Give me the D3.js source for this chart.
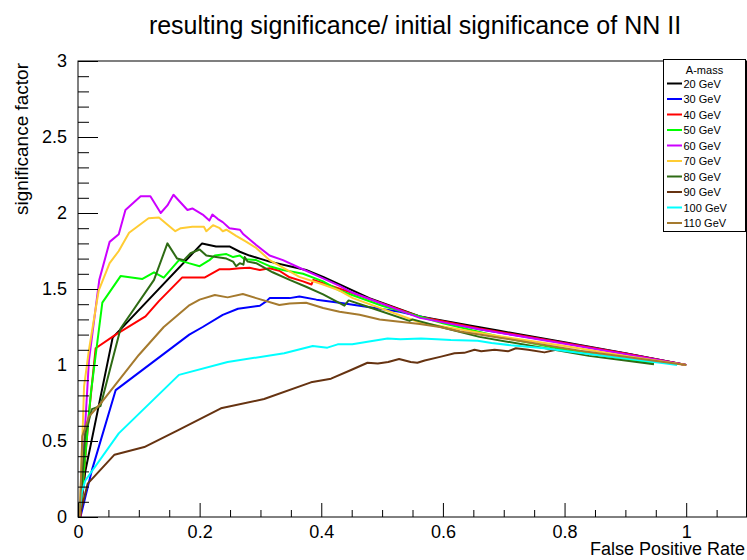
<!DOCTYPE html>
<html>
<head>
<meta charset="utf-8">
<script src="https://cdn.jsdelivr.net/npm/d3@7"></script>
<style>
  html, body { margin: 0; padding: 0; background: #fff; }
  svg { display: block; font-family: "Liberation Sans", Arial, Helvetica, sans-serif; }
</style>
</head>
<body>
<svg id="chart" width="747" height="560"></svg>
<script>
// ---------------- data ----------------
const titleText = "resulting significance/ initial significance of NN II";
const xLabel = "False Positive Rate";
const yLabel = "significance factor";
const legendTitle = "A-mass";
const seriesNames = ["20 GeV","30 GeV","40 GeV","50 GeV","60 GeV","70 GeV","80 GeV","90 GeV","100 GeV","110 GeV"];
const seriesColors = ["#000000","#0000ff","#ff0000","#00ff00","#cc00ff","#ffcc33","#2e6b14","#663311","#00ffff","#a57a2e"];
const xMajorTicks = [0, 0.2, 0.4, 0.6, 0.8, 1];
const xTickLabels = ["0","0.2","0.4","0.6","0.8","1"];
const yMajorTicks = [0, 0.5, 1, 1.5, 2, 2.5, 3];
const yTickLabels = ["0","0.5","1","1.5","2","2.5","3"];

const m20 = [[0.003,0],[0.012,0.30],[0.057,1.18],[0.204,1.80],[0.227,1.78],[0.249,1.78],[0.266,1.745],[0.282,1.72],[0.299,1.70],[0.315,1.68],[0.348,1.65],[0.375,1.625],[0.403,1.58],[0.43,1.53],[0.479,1.44],[0.562,1.32],[0.644,1.26],[0.693,1.225],[0.8,1.15],[0.9,1.078],[1.0,1.0]];
const m30 = [[0.004,0],[0.023,0.31],[0.062,0.835],[0.183,1.20],[0.205,1.25],[0.238,1.33],[0.263,1.37],[0.299,1.39],[0.31,1.42],[0.315,1.44],[0.348,1.44],[0.364,1.45],[0.392,1.43],[0.43,1.41],[0.463,1.39],[0.529,1.35],[0.6,1.285],[0.66,1.235],[0.8,1.145],[0.9,1.075],[1.0,1.0]];
const m40 = [[0.004,0],[0.018,0.68],[0.029,1.11],[0.062,1.20],[0.111,1.32],[0.133,1.42],[0.171,1.575],[0.208,1.575],[0.233,1.63],[0.249,1.63],[0.266,1.636],[0.282,1.64],[0.299,1.625],[0.315,1.636],[0.331,1.62],[0.348,1.577],[0.37,1.55],[0.384,1.53],[0.387,1.56],[0.45,1.475],[0.562,1.318],[0.66,1.24],[0.8,1.145],[0.9,1.076],[1.0,1.0]];
const m50 = [[0.003,0],[0.021,0.81],[0.04,1.41],[0.07,1.585],[0.106,1.566],[0.125,1.61],[0.141,1.575],[0.166,1.69],[0.182,1.67],[0.2,1.65],[0.216,1.69],[0.225,1.72],[0.244,1.73],[0.255,1.71],[0.266,1.72],[0.274,1.695],[0.293,1.69],[0.315,1.65],[0.337,1.625],[0.37,1.60],[0.403,1.55],[0.43,1.49],[0.5,1.39],[0.6,1.275],[0.7,1.18],[0.8,1.1],[0.947,1.01]];
const m60 = [[0.003,0],[0.018,1.03],[0.035,1.56],[0.052,1.81],[0.067,1.86],[0.078,2.02],[0.103,2.11],[0.119,2.11],[0.136,2.00],[0.147,2.05],[0.157,2.12],[0.18,2.02],[0.188,2.03],[0.205,1.99],[0.216,1.95],[0.221,1.99],[0.23,1.96],[0.238,1.94],[0.249,1.90],[0.266,1.89],[0.272,1.86],[0.293,1.79],[0.315,1.72],[0.337,1.69],[0.364,1.64],[0.403,1.57],[0.43,1.52],[0.452,1.475],[0.562,1.31],[0.66,1.235],[0.8,1.14],[0.9,1.07],[1.0,1.0]];
const m70 = [[0.003,0],[0.01,0.86],[0.018,1.10],[0.034,1.49],[0.052,1.67],[0.067,1.75],[0.084,1.87],[0.116,1.965],[0.133,1.97],[0.16,1.88],[0.169,1.90],[0.188,1.91],[0.207,1.91],[0.211,1.88],[0.222,1.92],[0.233,1.90],[0.238,1.88],[0.244,1.89],[0.26,1.85],[0.277,1.81],[0.293,1.77],[0.315,1.69],[0.337,1.64],[0.364,1.58],[0.403,1.53],[0.43,1.49],[0.452,1.44],[0.562,1.28],[0.693,1.19],[0.8,1.125],[0.9,1.06],[1.0,1.0]];
const m80 = [[0.003,0],[0.012,0.55],[0.023,0.71],[0.037,0.73],[0.07,1.24],[0.125,1.56],[0.147,1.80],[0.163,1.70],[0.174,1.69],[0.185,1.735],[0.2,1.76],[0.211,1.72],[0.227,1.71],[0.244,1.70],[0.255,1.68],[0.26,1.65],[0.266,1.67],[0.272,1.66],[0.274,1.71],[0.279,1.68],[0.293,1.67],[0.32,1.61],[0.348,1.56],[0.375,1.515],[0.403,1.465],[0.438,1.39],[0.445,1.425],[0.479,1.38],[0.545,1.29],[0.55,1.30],[0.606,1.24],[0.66,1.185],[0.84,1.06],[0.947,1.005]];
const m90 = [[0.002,0],[0.016,0.22],[0.06,0.41],[0.109,0.46],[0.164,0.57],[0.235,0.715],[0.306,0.776],[0.383,0.886],[0.416,0.91],[0.449,0.967],[0.476,1.015],[0.493,1.01],[0.51,1.02],[0.528,1.04],[0.547,1.02],[0.558,1.015],[0.57,1.03],[0.597,1.055],[0.619,1.077],[0.635,1.08],[0.652,1.10],[0.663,1.09],[0.685,1.10],[0.707,1.09],[0.72,1.11],[0.74,1.10],[0.767,1.083],[0.786,1.10]];
const m100 = [[0.002,0],[0.006,0.156],[0.012,0.24],[0.067,0.55],[0.166,0.935],[0.246,1.02],[0.339,1.077],[0.386,1.125],[0.41,1.114],[0.427,1.136],[0.451,1.136],[0.476,1.153],[0.509,1.175],[0.53,1.17],[0.564,1.175],[0.59,1.17],[0.613,1.164],[0.657,1.16],[0.68,1.145],[0.712,1.13],[0.767,1.11],[0.81,1.087],[0.854,1.066],[0.967,1.01],[0.985,1.0]];
const m110 = [[0.003,0],[0.007,0.53],[0.018,0.66],[0.04,0.76],[0.1,1.066],[0.141,1.25],[0.182,1.39],[0.2,1.43],[0.225,1.46],[0.246,1.445],[0.271,1.467],[0.293,1.44],[0.331,1.395],[0.348,1.405],[0.375,1.41],[0.403,1.375],[0.43,1.35],[0.463,1.33],[0.496,1.30],[0.529,1.285],[0.562,1.27],[0.595,1.25],[0.628,1.22],[0.66,1.20],[0.693,1.18],[0.825,1.094],[1.0,1.0]];
const seriesData = [m20, m30, m40, m50, m60, m70, m80, m90, m100, m110];

// ---------------- layout ----------------
(function draw() {
const svg = d3.select("#chart");
const pL = 78, pR = 746.5, pT = 61, pB = 517;
const x = d3.scaleLinear().domain([0, 1.1]).range([pL, pL + (686.2 - pL) * 1.1]);
const y = d3.scaleLinear().domain([0, 3]).range([pB, pT]);

// title
svg.append("text").attr("x", 415).attr("y", 34).attr("text-anchor", "middle")
  .attr("font-size", 25).attr("fill", "#000").text(titleText);

// clip
svg.append("defs").append("clipPath").attr("id", "clip")
  .append("rect").attr("x", pL).attr("y", pT).attr("width", pR - pL).attr("height", pB - pT);

// series
const line = d3.line().x(d => x(d[0])).y(d => y(d[1]));
const g = svg.append("g").attr("clip-path", "url(#clip)");
seriesData.forEach((d, i) => {
  g.append("path").attr("d", line(d)).attr("fill", "none")
    .attr("stroke", seriesColors[i]).attr("stroke-width", 2).attr("stroke-linejoin", "round");
});

// axes
const xMinor = d3.range(0, 1.1001, 0.05).filter(v => !xMajorTicks.some(m => Math.abs(m - v) < 1e-6));
const yMinor = d3.range(0, 3.0001, 0.1).filter(v => !yMajorTicks.some(m => Math.abs(m - v) < 1e-6));

const xAxisMinor = d3.axisBottom(x).tickValues(xMinor).tickSize(-7).tickFormat("");
const xAxisMajor = d3.axisBottom(x).tickValues(xMajorTicks).tickSize(-14).tickPadding(8)
  .tickFormat((d, i) => xTickLabels[i]);
const yAxisMinor = d3.axisLeft(y).tickValues(yMinor).tickSize(-11).tickFormat("");
const yAxisMajor = d3.axisLeft(y).tickValues(yMajorTicks).tickSize(-20).tickPadding(11)
  .tickFormat((d, i) => yTickLabels[i]);

function style(sel) {
  sel.select(".domain").remove();
  sel.selectAll("line").attr("stroke", "#000").attr("stroke-width", 1);
  sel.selectAll("text").attr("font-size", 18).attr("fill", "#000")
    .attr("font-family", "Liberation Sans, Arial, sans-serif");
}
svg.append("g").attr("transform", `translate(0,${pB})`).call(xAxisMinor).call(style);
svg.append("g").attr("transform", `translate(0,${pB})`).call(xAxisMajor).call(style);
svg.append("g").attr("transform", `translate(${pL},0)`).call(yAxisMinor).call(style);
svg.append("g").attr("transform", `translate(${pL},0)`).call(yAxisMajor).call(style);

// frame
svg.append("rect").attr("x", pL).attr("y", pT).attr("width", pR - pL).attr("height", pB - pT)
  .attr("fill", "none").attr("stroke", "#000").attr("stroke-width", 1);

// axis titles
svg.append("text").attr("x", 745).attr("y", 555).attr("text-anchor", "end")
  .attr("font-size", 18).attr("fill", "#000").text(xLabel);
svg.append("text").attr("transform", "translate(28,63) rotate(-90)").attr("text-anchor", "end")
  .attr("font-size", 19).attr("fill", "#000").text(yLabel);

// legend
const lg = svg.append("g");
const lx = 663.5, ly = 59.5, lw = 82, lh = 172;
lg.append("rect").attr("x", lx).attr("y", ly).attr("width", lw).attr("height", lh)
  .attr("fill", "#fff").attr("stroke", "#000").attr("stroke-width", 1);
lg.append("text").attr("x", lx + lw / 2).attr("y", 74).attr("text-anchor", "middle")
  .attr("font-size", 11).attr("fill", "#000").text(legendTitle);
seriesNames.forEach((name, i) => {
  const yy = 83.5 + i * 15.5;
  lg.append("line").attr("x1", 667).attr("x2", 682).attr("y1", yy).attr("y2", yy)
    .attr("stroke", seriesColors[i]).attr("stroke-width", 2);
  lg.append("text").attr("x", 683.5).attr("y", yy + 4).attr("font-size", 11)
    .attr("fill", "#000").text(name);
});
})();
</script>
</body>
</html>
